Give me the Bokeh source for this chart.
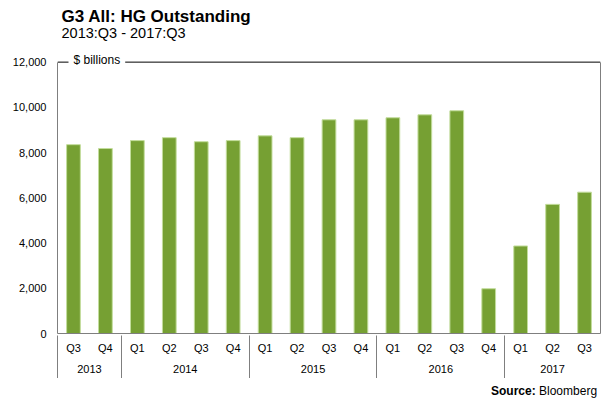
from bokeh.plotting import figure
from bokeh.models import (Range1d, Label, Span, NumeralTickFormatter, Div,
                          FixedTicker, ColumnDataSource, LinearAxis)
from bokeh.layouts import column
from bokeh.embed import file_html
from bokeh.resources import INLINE

years = ["2013", "2013",
         "2014", "2014", "2014", "2014",
         "2015", "2015", "2015", "2015",
         "2016", "2016", "2016", "2016",
         "2017", "2017", "2017"]
quarters = ["Q3", "Q4",
            "Q1", "Q2", "Q3", "Q4",
            "Q1", "Q2", "Q3", "Q4",
            "Q1", "Q2", "Q3", "Q4",
            "Q1", "Q2", "Q3"]
values = [8350, 8180,
          8530, 8660, 8480, 8530,
          8740, 8660, 9450, 9450,
          9540, 9670, 9850, 1980,
          3870, 5710, 6250]
y_ticks = [0, 2000, 4000, 6000, 8000, 10000, 12000]

FONT = "Liberation Sans"
GRAY = "#7f7f7f"
n = len(values)
xs = [i + 0.5 for i in range(n)]
y_top = y_ticks[-1]

# group (year) boundaries and centres derived from the data
bounds = [0]
group_names = [years[0]]
for i in range(1, n):
    if years[i] != years[i - 1]:
        bounds.append(i)
        group_names.append(years[i])
ends = bounds[1:] + [n]
group_centres = [(a + b) / 2 for a, b in zip(bounds, ends)]

# layout (pixels): the frame runs from the top of the canvas down to the x axis,
# so that the titles drawn inside it are not clipped
FRAME_H = 335          # frame height in px
AXIS_TOP_PX = 62       # where the top value line sits
y_max = y_top * FRAME_H / (FRAME_H - AXIS_TOP_PX)

src = ColumnDataSource(dict(x=xs, top=values))

p = figure(width=605, height=378, title=None,
           x_range=Range1d(0, n), y_range=Range1d(0, y_max),
           x_axis_location=None,
           output_backend="svg", toolbar_location=None,
           min_border_left=57, min_border_right=5, min_border_top=0, min_border_bottom=43)

p.vbar(x="x", top="top", width=0.43, source=src,
       fill_color="#76a033", line_color="#c3dd9c", line_width=1)

p.xgrid.visible = False
p.ygrid.visible = False
p.outline_line_color = None
p.background_fill_color = "white"
p.border_fill_color = "white"

# y axis
ya = p.yaxis[0]
ya.ticker = FixedTicker(ticks=y_ticks)
ya.bounds = (0, y_top)
ya.formatter = NumeralTickFormatter(format="0,0")
ya.major_tick_line_color = None
ya.minor_tick_line_color = None
ya.major_tick_out = 0
ya.minor_tick_out = 0
ya.axis_line_color = GRAY
ya.major_label_standoff = 11
ya.major_label_text_font = FONT
ya.major_label_text_font_size = "11px"
ya.major_label_text_color = "black"

# right border
rb = LinearAxis(ticker=FixedTicker(ticks=[]), bounds=(0, y_top))
rb.major_label_text_color = None
rb.major_tick_line_color = None
rb.minor_tick_line_color = None
rb.major_tick_out = 0
rb.minor_tick_out = 0
rb.axis_line_color = GRAY
p.add_layout(rb, "right")


def label_axis(ticks, names, standoff, line_color):
    ax = LinearAxis(ticker=FixedTicker(ticks=ticks),
                    major_label_overrides={t: s for t, s in zip(ticks, names)})
    ax.major_tick_line_color = None
    ax.minor_tick_line_color = None
    ax.major_tick_out = 0
    ax.major_tick_in = 0
    ax.minor_tick_out = 0
    ax.minor_tick_in = 0
    ax.axis_line_color = line_color
    ax.major_label_standoff = standoff
    ax.major_label_text_font = FONT
    ax.major_label_text_font_size = "11px"
    ax.major_label_text_color = "black"
    return ax


# quarter row, year row
p.add_layout(label_axis(xs, quarters, 8, GRAY), "below")
p.add_layout(label_axis(group_centres, group_names, 8, None), "below")

# separators between years: minor ticks pointing back up to the frame
sep = LinearAxis(ticker=FixedTicker(ticks=[], minor_ticks=bounds))
sep.major_label_text_color = None
sep.major_tick_line_color = None
sep.major_tick_out = 0
sep.major_tick_in = 0
sep.minor_tick_line_color = GRAY
sep.minor_tick_in = 40
sep.minor_tick_out = 3
sep.axis_line_color = None
p.add_layout(sep, "below")

# top line with unit label
p.add_layout(Span(location=y_top, dimension="width", line_color="black", line_width=1))
p.add_layout(Label(x=11, y=274, x_units="screen", y_units="screen", text="$ billions",
                   text_font=FONT, text_font_size="12px", text_baseline="alphabetic",
                   text_color="black", background_fill_color="white", padding=5))

# titles
p.add_layout(Label(x=4, y=317, x_units="screen", y_units="screen",
                   text="G3 All: HG Outstanding", text_font=FONT,
                   text_font_style="bold", text_font_size="17px",
                   text_color="black", text_baseline="alphabetic"))
p.add_layout(Label(x=4, y=301, x_units="screen", y_units="screen",
                   text="2013:Q3 - 2017:Q3", text_font=FONT, text_font_size="14.5px",
                   text_color="black", text_baseline="alphabetic"))

source = Div(text="<b>Source:</b> Bloomberg", width=112, height=18,
             margin=(5, 0, 0, 491),
             styles={"font-family": "Liberation Sans", "font-size": "12px",
                     "text-align": "left", "color": "black", "white-space": "nowrap"})

layout = column(p, source, spacing=0)
open("out.html", "w").write(file_html(layout, INLINE))
